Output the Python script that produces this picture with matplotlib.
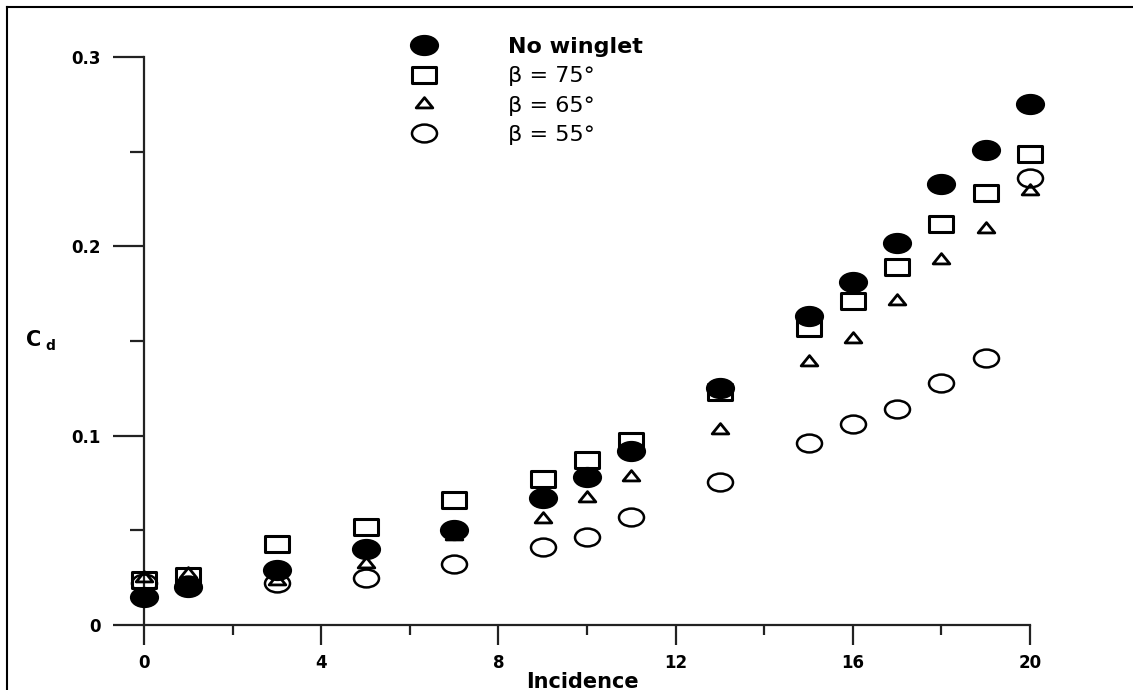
import matplotlib
matplotlib.use("Agg")
import matplotlib.pyplot as plt
from matplotlib.path import Path
from matplotlib.transforms import Affine2D
from matplotlib.lines import Line2D

plt.rcParams['font.family'] = ['DejaVu Sans']

# incidence angles
incidence = [0, 1, 3, 5, 7, 9, 10, 11, 13, 15, 16, 17, 18, 19, 20]

# drag coefficient per configuration
cd_no_winglet = [0.015, 0.020, 0.029, 0.040, 0.050, 0.067, 0.078, 0.092,
                 0.125, 0.163, 0.181, 0.202, 0.233, 0.251, 0.275]
cd_beta75 = [0.024, 0.026, 0.043, 0.052, 0.066, 0.077, 0.087, 0.097,
             0.123, 0.157, 0.171, 0.189, 0.212, 0.228, 0.249]
cd_beta65 = [0.025, 0.027, 0.023, 0.032, 0.047, 0.056, 0.067, 0.078,
             0.103, 0.139, 0.151, 0.171, 0.193, 0.209, 0.229]
cd_beta55 = [0.022, 0.021, 0.022, 0.025, 0.032, 0.041, 0.0465, 0.057,
             0.0755, 0.096, 0.106, 0.114, 0.128, 0.141, 0.236]

labels = ["No winglet", "\u03b2 = 75\u00b0", "\u03b2 = 65\u00b0", "\u03b2 = 55\u00b0"]

# markers look horizontally stretched in the original
stretch = Affine2D().scale(1.4, 1.0)
ellipse = stretch.transform_path(Path.unit_circle())
rect = stretch.transform_path(Path.unit_rectangle().transformed(Affine2D().translate(-0.5, -0.5)))
tri = stretch.transform_path(Path.unit_regular_polygon(3))

W, H = 1133, 690
fig = plt.figure(figsize=(W / 100, H / 100), dpi=100)
ax = fig.add_axes([144 / W, (H - 625) / H, (1030 - 144) / W, (625 - 57) / H])

styles = [
    (cd_no_winglet, ellipse, 'black', 20, 1.0),
    (cd_beta75, rect, 'none', 17, 2.2),
    (cd_beta65, tri, 'none', 12, 2.0),
    (cd_beta55, ellipse, 'none', 18, 1.8),
]
handles = []
for (vals, mk, fc, ms, lw), lab in zip(styles, labels):
    ax.plot(incidence, vals, linestyle='none', marker=mk, markersize=ms,
            markerfacecolor=fc, markeredgecolor='black', markeredgewidth=lw,
            clip_on=False, zorder=3)
    handles.append(Line2D([], [], linestyle='none', marker=mk, markersize=ms,
                          markerfacecolor=fc, markeredgecolor='black',
                          markeredgewidth=lw, label=lab))

ax.set_xlim(0, 20)
ax.set_ylim(0, 0.3)
ax.set_xticks([0, 4, 8, 12, 16, 20])
ax.set_xticks([2, 6, 10, 14, 18], minor=True)
ax.set_yticks([0, 0.1, 0.2, 0.3])
ax.set_yticklabels(["0", "0.1", "0.2", "0.3"])
ax.set_yticks([0.05, 0.15, 0.25], minor=True)

for s in ['top', 'right']:
    ax.spines[s].set_visible(False)
for s in ['left', 'bottom']:
    ax.spines[s].set_linewidth(1.6)
    ax.spines[s].set_color('#222222')

ax.tick_params(axis='x', which='major', direction='out', length=14.5, width=1.6,
               pad=6.5, labelsize=12, color='#222222')
ax.tick_params(axis='x', which='minor', direction='out', length=7, width=1.6, color='#222222')
ax.tick_params(axis='y', which='major', direction='out', length=22, width=1.6,
               pad=9, labelsize=12, color='#222222')
ax.tick_params(axis='y', which='minor', direction='out', length=10, width=1.6, color='#222222')
for t in ax.get_xticklabels() + ax.get_yticklabels():
    t.set_fontweight('bold')

fig.text(582 / W, 1 - 682 / H, "Incidence", ha='center', va='center',
         fontsize=15, fontweight='bold')
fig.text(34 / W, 1 - 340 / H, "C", ha='center', va='center', fontsize=15, fontweight='bold')
fig.text(50 / W, 1 - 346 / H, "d", ha='center', va='center', fontsize=10, fontweight='bold')

leg = ax.legend(handles=handles, loc='upper left', bbox_to_anchor=(391 / W, 1 - 26 / H),
                bbox_transform=fig.transFigure, frameon=False, fontsize=16,
                handlelength=2.0, handletextpad=2.78, labelspacing=0.42,
                borderpad=0, numpoints=1)
leg.get_texts()[0].set_fontweight('bold')

# border lines seen at top and left of the original image
fig.add_artist(Line2D([7 / W, 1], [1 - 7 / H, 1 - 7 / H], color='black', lw=1.5,
                      transform=fig.transFigure))
fig.add_artist(Line2D([7 / W, 7 / W], [0, 1 - 7 / H], color='black', lw=1.5,
                      transform=fig.transFigure))

fig.savefig("out.png", dpi=100)
